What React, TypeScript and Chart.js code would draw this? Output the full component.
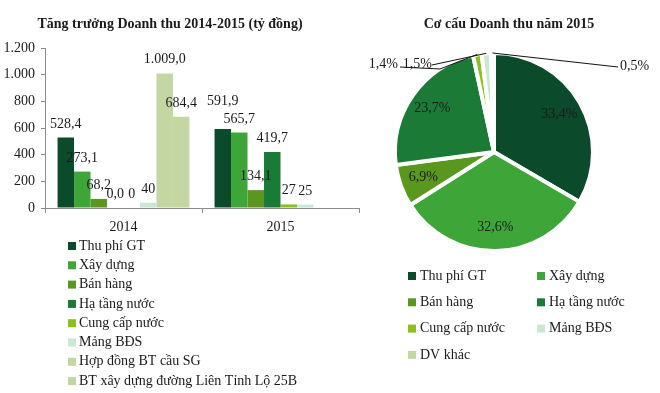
import React, { useEffect, useRef } from "react";
import { Chart, registerables } from "chart.js";

Chart.register(...registerables);

// ---------- DATA ----------
const years = ["2014", "2015"];

const barSeriesNames = [
  "Thu phí GT",
  "Xây dựng",
  "Bán hàng",
  "Hạ tầng nước",
  "Cung cấp nước",
  "Mảng BĐS",
  "Hợp đồng BT cầu SG",
  "BT xây dựng đường Liên Tỉnh Lộ 25B",
];

const thuPhiGT = [528.4, 591.9];
const xayDung = [273.1, 565.7];
const banHang = [68.2, 134.1];
const haTangNuoc = [0.0, 419.7];
const cungCapNuoc = [0, 27];
const mangBDS = [40, 25];
const hopDongBTCauSG = [1009.0, null];
const btDuongLTL25B = [684.4, null];

const thuPhiGTText = ["528,4", "591,9"];
const xayDungText = ["273,1", "565,7"];
const banHangText = ["68,2", "134,1"];
const haTangNuocText = ["0,0", "419,7"];
const cungCapNuocText = ["0", "27"];
const mangBDSText = ["40", "25"];
const hopDongBTCauSGText = ["1.009,0", ""];
const btDuongLTL25BText = ["684,4", ""];

const yMin = 0;
const yMax = 1200;
const yStep = 200;

const pieLabels = [
  "Thu phí GT",
  "Xây dựng",
  "Bán hàng",
  "Hạ tầng nước",
  "Cung cấp nước",
  "Mảng BĐS",
  "DV khác",
];
const pieShares = [33.4, 32.6, 6.9, 23.7, 1.4, 1.5, 0.5];

const barTitle = "Tăng trưởng Doanh thu 2014-2015 (tỷ đồng)";
const pieTitle = "Cơ cấu Doanh thu năm 2015";

// ---------- STYLE ----------
const FONT = "'Liberation Serif', 'Times New Roman', serif";
const TEXT = "#1a1a1a";
const AXIS = "#8c8c8c";

const barColors = [
  "#0c4a2c",
  "#3ea639",
  "#5a971f",
  "#1c7a37",
  "#8cc021",
  "#c9e7d3",
  "#c4d7a2",
  "#c4d7a2",
];
const pieColors = [
  "#0c4a2c",
  "#3ea639",
  "#5a971f",
  "#1c7a37",
  "#8cc021",
  "#c9e7d3",
  "#c4d7a2",
];

const barSeries = [
  thuPhiGT,
  xayDung,
  banHang,
  haTangNuoc,
  cungCapNuoc,
  mangBDS,
  hopDongBTCauSG,
  btDuongLTL25B,
];
const barSeriesText = [
  thuPhiGTText,
  xayDungText,
  banHangText,
  haTangNuocText,
  cungCapNuocText,
  mangBDSText,
  hopDongBTCauSGText,
  btDuongLTL25BText,
];

const fmtThousands = (v: number) =>
  String(v).replace(/\B(?=(\d{3})+(?!\d))/g, ".");

function BarChart() {
  const ref = useRef<HTMLCanvasElement>(null);
  useEffect(() => {
    const canvas = ref.current;
    if (!canvas) return;

    // extra lift for a label that would otherwise overlap its neighbour
    const labelLift: Record<string, number> = { "0-1": 14 };

    const valueLabels = {
      id: "valueLabels",
      afterDatasetsDraw(chart: any) {
        const ctx = chart.ctx;
        ctx.save();
        ctx.font = `14px ${FONT}`;
        ctx.fillStyle = TEXT;
        ctx.textAlign = "center";
        ctx.textBaseline = "alphabetic";
        chart.data.datasets.forEach((ds: any, di: number) => {
          const meta = chart.getDatasetMeta(di);
          meta.data.forEach((el: any, i: number) => {
            const v = ds.data[i];
            if (v === null || v === undefined) return;
            const lift = labelLift[`${di}-${i}`] || 0;
            ctx.fillText(barSeriesText[di][i], el.x, el.y - 10 - lift);
          });
        });
        ctx.restore();
      },
    };

    const decor = {
      id: "decor",
      afterDraw(chart: any) {
        const ctx = chart.ctx;
        ctx.save();
        ctx.fillStyle = TEXT;
        ctx.font = `bold 14px ${FONT}`;
        ctx.textAlign = "center";
        ctx.textBaseline = "middle";
        ctx.fillText(barTitle, 170, 24);
        ctx.font = `14px ${FONT}`;
        ctx.textAlign = "left";
        chart.data.datasets.forEach((ds: any, i: number) => {
          const y = 246 + i * 19.3;
          ctx.fillStyle = ds.backgroundColor;
          ctx.fillRect(68, y - 4, 8, 8);
          ctx.fillStyle = TEXT;
          ctx.fillText(ds.label, 79, y);
        });
        ctx.restore();
      },
    };

    const chart = new Chart(canvas, {
      type: "bar",
      data: {
        labels: years,
        datasets: barSeries.map((d, i) => ({
          label: barSeriesNames[i],
          data: d,
          backgroundColor: barColors[i],
          borderWidth: 0,
          categoryPercentage: 0.84,
          barPercentage: 1,
        })),
      },
      options: {
        responsive: false,
        animation: false,
        events: [],
        layout: { padding: { top: 48, left: 0, right: 1, bottom: 0 } },
        plugins: {
          legend: { display: false },
          tooltip: { enabled: false },
          title: { display: false },
        },
        scales: {
          x: {
            afterFit: (s: any) => {
              s.height = 185;
            },
            grid: {
              display: true,
              drawOnChartArea: false,
              drawTicks: true,
              tickLength: 5,
              color: AXIS,
              offset: true,
            },
            border: { color: AXIS },
            ticks: {
              color: TEXT,
              font: { family: FONT, size: 14 },
              padding: 6,
            },
          },
          y: {
            min: yMin,
            max: yMax,
            afterFit: (s: any) => {
              s.width = 45;
            },
            grid: {
              display: true,
              drawOnChartArea: false,
              drawTicks: true,
              tickLength: 4,
              color: AXIS,
            },
            border: { color: AXIS },
            ticks: {
              stepSize: yStep,
              color: TEXT,
              font: { family: FONT, size: 14 },
              padding: 6,
              callback: (v: any) => fmtThousands(Number(v)),
            },
          },
        },
      } as any,
      plugins: [valueLabels, decor],
    });
    return () => chart.destroy();
  }, []);
  return (
    <canvas
      ref={ref}
      width={360}
      height={393}
      style={{ position: "absolute", left: 0, top: 0, width: 360, height: 393 }}
    />
  );
}

function PieChart() {
  const ref = useRef<HTMLCanvasElement>(null);
  useEffect(() => {
    const canvas = ref.current;
    if (!canvas) return;

    // leader lines for the thin slices (offsets relative to pie centre)
    const leaders: Record<number, { path: number[][]; text: number[]; align: CanvasTextAlign }> = {
      4: { path: [[-54, -83], [-94, -85]], text: [-96, -88], align: "right" },
      5: { path: [[-62, -87]], text: [-62, -88], align: "right" },
      6: { path: [[124, -85]], text: [126, -86], align: "left" },
    };

    const pieDecor = {
      id: "pieDecor",
      afterDraw(chart: any) {
        const ctx = chart.ctx;
        const meta = chart.getDatasetMeta(0);
        const data = chart.data.datasets[0].data as number[];
        ctx.save();
        ctx.font = `14px ${FONT}`;
        ctx.fillStyle = TEXT;
        ctx.textBaseline = "middle";
        meta.data.forEach((arc: any, i: number) => {
          const { x, y, startAngle, endAngle, outerRadius } = arc.getProps(
            ["x", "y", "startAngle", "endAngle", "outerRadius"],
            true
          );
          const mid = (startAngle + endAngle) / 2;
          const txt = data[i].toFixed(1).replace(".", ",") + "%";
          const lead = leaders[i];
          if (lead) {
            ctx.strokeStyle = "#111";
            ctx.lineWidth = 1;
            ctx.beginPath();
            ctx.moveTo(x + Math.cos(mid) * outerRadius, y + Math.sin(mid) * outerRadius);
            lead.path.forEach((p) => ctx.lineTo(x + p[0], y + p[1]));
            ctx.stroke();
            ctx.textAlign = lead.align;
            ctx.fillText(txt, x + lead.text[0], y + lead.text[1]);
          } else {
            const r = outerRadius * 0.76;
            ctx.textAlign = "center";
            ctx.fillText(txt, x + Math.cos(mid) * r, y + Math.sin(mid) * r);
          }
        });

        // title
        ctx.font = `bold 14px ${FONT}`;
        ctx.textAlign = "center";
        ctx.fillText(pieTitle, 149, 24);

        // legend (two columns)
        ctx.font = `14px ${FONT}`;
        ctx.textAlign = "left";
        const bg = chart.data.datasets[0].backgroundColor as string[];
        chart.data.labels.forEach((lab: string, i: number) => {
          const col = i % 2;
          const row = Math.floor(i / 2);
          const lx = col === 0 ? 48 : 177;
          const ly = 276 + row * 26.3;
          ctx.fillStyle = bg[i];
          ctx.fillRect(lx, ly - 4, 8, 8);
          ctx.fillStyle = TEXT;
          ctx.fillText(lab, lx + 12, ly);
        });
        ctx.restore();
      },
    };

    const chart = new Chart(canvas, {
      type: "pie",
      data: {
        labels: pieLabels,
        datasets: [
          {
            data: pieShares,
            backgroundColor: pieColors,
            borderColor: "#ffffff",
            borderWidth: 4,
          },
        ],
      },
      options: {
        responsive: false,
        animation: false,
        events: [],
        layout: { padding: { left: 33, top: 51, right: 65, bottom: 140 } },
        plugins: {
          legend: { display: false },
          tooltip: { enabled: false },
          title: { display: false },
        },
      } as any,
      plugins: [pieDecor],
    });
    return () => chart.destroy();
  }, []);
  return (
    <canvas
      ref={ref}
      width={300}
      height={393}
      style={{ position: "absolute", left: 360, top: 0, width: 300, height: 393 }}
    />
  );
}

export default function App() {
  return (
    <div
      style={{
        position: "absolute",
        left: 0,
        top: 0,
        width: 660,
        height: 393,
        background: "#ffffff",
        overflow: "hidden",
      }}
    >
      <BarChart />
      <PieChart />
    </div>
  );
}
